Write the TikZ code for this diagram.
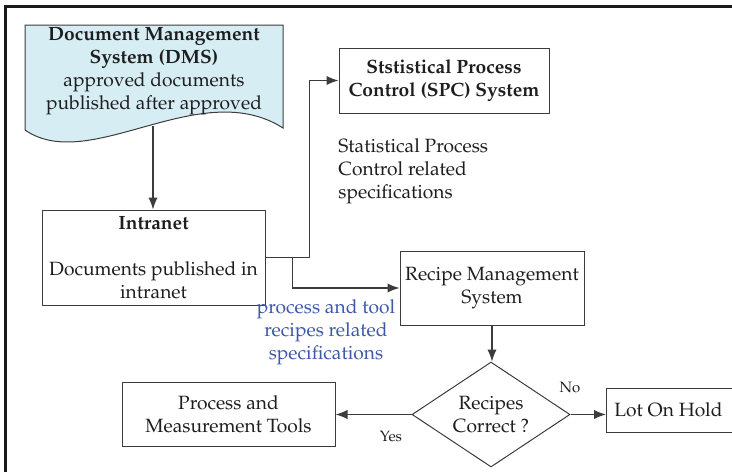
\documentclass[tikz,border=0pt]{standalone}
\usepackage[T1]{fontenc}
\usepackage{mathpazo}
\usetikzlibrary{arrows.meta,shapes.geometric}
\definecolor{dmsfill}{RGB}{214,237,244}
\definecolor{bluetxt}{RGB}{62,88,170}
\definecolor{txt}{RGB}{30,30,30}
\definecolor{ln}{RGB}{60,60,60}
\tikzset{
  box/.style={draw=ln, line width=0.5pt, rectangle, inner sep=0pt, align=center, text=txt,
    font=\fontsize{9.6}{11.5}\selectfont},
  conn/.style={draw=ln, line width=0.55pt, -{Latex[length=6pt,width=4.6pt]}},
  lbl/.style={inner sep=0pt, align=center, text=txt, font=\fontsize{9.6}{11.5}\selectfont},
  small/.style={inner sep=0pt, text=txt, font=\fontsize{7.5}{9}\selectfont},
}
\begin{document}
\begin{tikzpicture}[x=0.5pt,y=-0.5pt]
\useasboundingbox (0,0) rectangle (732,471);
% outer frame
\draw[line width=1.5pt, color=black!90, line cap=rect] (5,471) -- (5,6) -- (732,6);
% DMS document shape
\draw[draw=ln, line width=0.5pt, fill=dmsfill]
  (25,25) -- (283,25) -- (283,128) .. controls (200,75) and (90,175) .. (25,130) -- cycle;
\node[lbl] (dms) at (154,71) {\textbf{Document Management}\\\textbf{System (DMS)}\\approved documents\\published after approved};
\coordinate (dmsb) at (153,126);
% boxes
\node[box, minimum width=111.5pt, minimum height=47.5pt] (intranet) at (153.5,257.5)
  {\textbf{Intranet}\\[11.5pt]Documents published in\\intranet};
\node[box, minimum width=105pt, minimum height=32.5pt] (spc) at (444,80.5)
  {\textbf{Ststistical Process}\\\textbf{Control (SPC) System}};
\node[lbl, anchor=west, align=left] (spclbl) at (338,171)
  {Statistical Process\\Control related\\specifications};
\node[box, minimum width=92pt, minimum height=37pt] (recipe) at (492,288)
  {Recipe Management\\System};
\node[lbl, text=bluetxt] (bluelbl) at (326,332)
  {process and tool\\recipes related\\specifications};
\node[draw=ln, line width=0.5pt, diamond, inner sep=0pt, minimum width=79pt, minimum height=52.5pt] (dia) at (491,414.5) {};
\node[lbl] (diatxt) at (dia.center) {Recipes\\Correct ?};
\node[box, minimum width=106.5pt, minimum height=32pt] (process) at (228.5,414)
  {Process and\\Measurement Tools};
\node[box, anchor=west, minimum width=70pt, minimum height=22pt] (lot) at (606,410) {Lot On Hold\hspace*{8pt}};
\node[small] (yes) at (391,436) {Yes};
\node[small] (no) at (570,387) {No};
% connectors
\draw[conn] (dmsb) -- (dmsb |- intranet.north);
\draw[conn] (intranet.east) -- ++(44,0) |- (spc.west);
\coordinate (br) at ([xshift=13.5pt]intranet.east);
\draw[conn] (br) |- (recipe.west);
\draw[conn] (recipe.south) -- (recipe.south |- dia.north);
\draw[conn] (dia.west) -- (dia.west -| process.east);
\draw[conn] (dia.east) -- (dia.east -| lot.west);
\end{tikzpicture}
\end{document}
